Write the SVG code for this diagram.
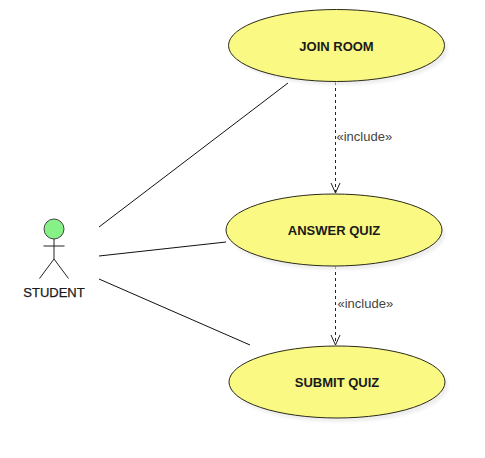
<svg xmlns="http://www.w3.org/2000/svg" width="485" height="458" viewBox="0 0 485 458">
<defs>
<style>
text{font-family:"Liberation Sans",Arial,sans-serif}
.uc{fill:#f9f983;stroke:#2b2b1a;stroke-width:1}
.sh{fill:#e6e6e6;opacity:.7;filter:url(#b)}
.t{font-size:13px;font-weight:bold;fill:#1a1a1a;text-anchor:middle}
.l{stroke:#111;stroke-width:1;fill:none}
.d{stroke:#222;stroke-width:1;fill:none;stroke-dasharray:3 3}
.h{stroke:#222;stroke-width:1;fill:none}
.i{font-size:13px;fill:#444}
.a{stroke:#222;stroke-width:1;fill:none}
</style>
<filter id="b" x="-10%" y="-20%" width="120%" height="140%"><feGaussianBlur stdDeviation="1.5"/></filter>
</defs>
<rect width="485" height="458" fill="#fff"/>
<g id="connectors">
<path class="l" d="M99 227L288 83"/>
<path class="l" d="M99 256L226 242"/>
<path class="l" d="M99 279L250 345"/>
<path class="d" d="M335.500 82V193"/>
<path class="h" d="M331 183L335.500 193L340 183"/>
<path class="d" d="M335.500 266V345"/>
<path class="h" d="M331 335L335.500 345L340 335"/>
<text class="i" x="336.500" y="141">«include»</text>
<text class="i" x="337.500" y="308">«include»</text>
</g>
<g id="join-room">
<ellipse class="sh" cx="340" cy="49" rx="108" ry="36"/>
<ellipse class="uc" cx="336.500" cy="45.500" rx="108" ry="36"/>
<text class="t" x="336.500" y="51">JOIN ROOM</text>
</g>
<g id="answer-quiz">
<ellipse class="sh" cx="337" cy="234" rx="108" ry="36"/>
<ellipse class="uc" cx="334" cy="230" rx="108" ry="36"/>
<text class="t" x="334" y="235">ANSWER QUIZ</text>
</g>
<g id="submit-quiz">
<ellipse class="sh" cx="340" cy="386" rx="108" ry="36"/>
<ellipse class="uc" cx="337" cy="382" rx="108" ry="36"/>
<text class="t" x="337" y="387">SUBMIT QUIZ</text>
</g>
<g id="student">
<circle cx="54" cy="229" r="10" fill="#86f186" stroke="#444"/>
<path class="a" d="M54 239V259M43.500 246H64.500M54 259L39.500 278.500M54 259L68.500 278.500"/>
<text x="54" y="297" font-size="13" fill="#1a1a1a" stroke="#1a1a1a" stroke-width=".25" text-anchor="middle">STUDENT</text>
</g>
</svg>
